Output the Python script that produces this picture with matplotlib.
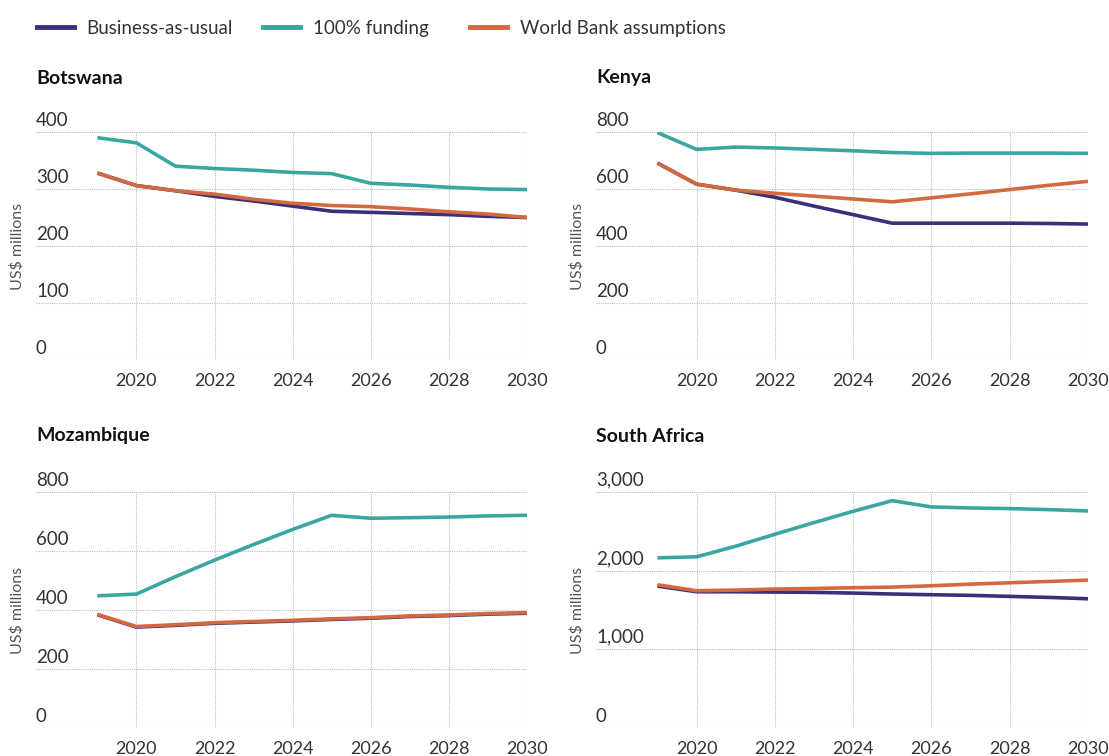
import matplotlib.pyplot as plt
from matplotlib.lines import Line2D
from matplotlib.ticker import FuncFormatter

plt.rcParams['font.family'] = ['Lato', 'DejaVu Sans']

# Data (US$ millions)
years = list(range(2019, 2031))

botswana_bau = [328, 306, 297, 287, 279, 270, 261, 259, 257, 255, 252, 250]
botswana_full = [390, 381, 340, 336, 333, 329, 327, 310, 307, 303, 300, 299]
botswana_wb = [328, 306, 297, 291, 282, 275, 271, 269, 265, 260, 256, 250]

kenya_bau = [691, 617, 596, 571, 540, 510, 480, 480, 480, 480, 479, 477]
kenya_full = [798, 739, 747, 744, 739, 734, 728, 725, 726, 726, 726, 725]
kenya_wb = [691, 617, 596, 585, 575, 565, 555, 569, 583, 598, 613, 627]

mozambique_bau = [384, 342, 348, 355, 359, 363, 368, 372, 378, 381, 386, 389]
mozambique_full = [448, 454, 513, 569, 622, 673, 721, 711, 713, 715, 719, 721]
mozambique_wb = [385, 344, 350, 357, 361, 365, 370, 374, 380, 383, 388, 391]

safrica_bau = [1804, 1732, 1732, 1728, 1724, 1715, 1703, 1694, 1686, 1673, 1660, 1643]
safrica_full = [2163, 2176, 2311, 2463, 2611, 2755, 2890, 2810, 2797, 2789, 2776, 2759]
safrica_wb = [1821, 1745, 1753, 1766, 1774, 1783, 1791, 1808, 1829, 1846, 1863, 1880]

series_names = ["Business-as-usual", "100% funding", "World Bank assumptions"]
colors = ["#3a2f78", "#3aa6a2", "#d4693f"]

panels = [
    ("Botswana", [botswana_bau, botswana_full, botswana_wb], [0, 100, 200, 300, 400]),
    ("Kenya", [kenya_bau, kenya_full, kenya_wb], [0, 200, 400, 600, 800]),
    ("Mozambique", [mozambique_bau, mozambique_full, mozambique_wb], [0, 200, 400, 600, 800]),
    ("South Africa", [safrica_bau, safrica_full, safrica_wb], [0, 1000, 2000, 3000]),
]

W, H = 1109, 756
fig = plt.figure(figsize=(W / 100, H / 100), dpi=100)

# axes boxes in pixels: left, top, right, bottom
boxes = [(36, 132, 527, 360), (596, 132, 1088, 360),
         (36, 492, 527, 728), (596, 492, 1088, 728)]
title_y = [78, 78, 436, 436]

for (name, data, yticks), (l, t, r, b), ty in zip(panels, boxes, title_y):
    ax = fig.add_axes([l / W, 1 - b / H, (r - l) / W, (b - t) / H])
    for vals, c in zip(data, colors):
        ax.plot(years, vals, color=c, lw=2.6, solid_capstyle='butt', zorder=3)
    ax.set_xlim(2017.43, 2030)
    ax.set_ylim(yticks[0], yticks[-1])
    ax.set_xticks(range(2020, 2031, 2))
    ax.set_yticks(yticks)
    ax.grid(True, color="#bdbdbd", lw=0.8, linestyle=(0, (1, 1)), zorder=0)
    for s in ax.spines.values():
        s.set_visible(False)
    ax.tick_params(axis='x', length=0, pad=9, labelsize=13, labelcolor="#333333")
    ax.tick_params(axis='y', length=0, labelleft=False)
    fmt = FuncFormatter(lambda v, p: f"{int(v):,}")
    for v in yticks:
        ax.annotate(fmt(v), (0, v), xycoords=ax.get_yaxis_transform(),
                    xytext=(0, 2.5), textcoords='offset points',
                    ha='left', va='bottom', fontsize=13.5, color="#333333")
    ax.set_ylabel("US$ millions", fontsize=11.5, color="#555555")
    ax.yaxis.set_label_coords(-0.024, 0.5)
    fig.text(l / W, 1 - ty / H, name, fontsize=14, fontweight='bold',
             ha='left', va='center', color="#111111")

# one legend entry per column, placed where the reference puts them
legend_x = [37, 263, 470]
for name, c, x in zip(series_names, colors, legend_x):
    h = Line2D([0], [0], color=c, lw=3.5)
    fig.legend([h], [name], loc='center left', bbox_to_anchor=(x / W, 1 - 28.5 / H),
               frameon=False, fontsize=13.5, handlelength=1.95, handletextpad=0.7,
               borderpad=0, borderaxespad=0, labelcolor="#333333")

fig.savefig("out.png", dpi=100)
